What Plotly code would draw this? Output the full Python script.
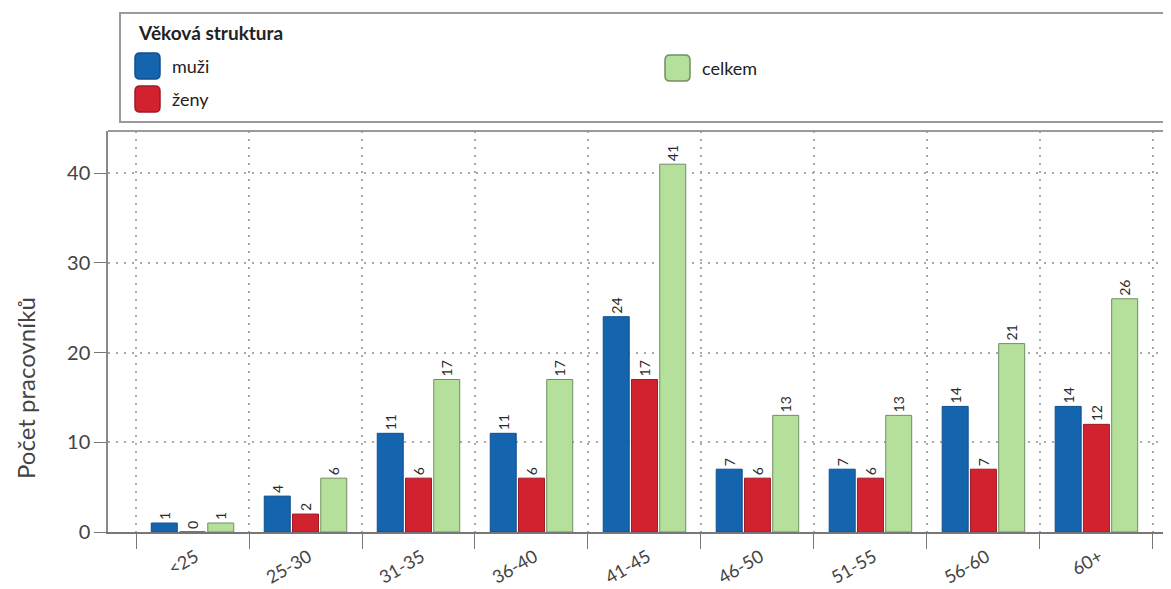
import plotly.graph_objects as go

categories = ["<25", "25-30", "31-35", "36-40", "41-45", "46-50", "51-55", "56-60", "60+"]
muzi = [1, 4, 11, 11, 24, 7, 7, 14, 14]
zeny = [0, 2, 6, 6, 17, 6, 6, 7, 12]
celkem = [1, 6, 17, 17, 41, 13, 13, 21, 26]
series_names = ["muži", "ženy", "celkem"]
legend_title = "Věková struktura"
y_title = "Počet pracovníků"
y_ticks = [0, 10, 20, 30, 40]

OFF = 8  # default page body margin
W, H = 1171 - OFF, 589
ML, MR, MT = 108 - OFF, 0, 131 - OFF
MB = H - (532 - OFF)
PW, PH = W - ML - MR, H - MT - MB

def px(x):
    return (x - OFF - ML) / PW

def py(y):
    return (H - MB - (y - OFF)) / PH

FONT = "Lato"
colors = ["#1464ae", "#d3222f", "#b4e09c"]
lines = ["#0e4f8f", "#9e1a24", "#6f8f62"]

fig = go.Figure()
for name, vals, c, lc in zip(series_names, [muzi, zeny, celkem], colors, lines):
    fig.add_trace(go.Bar(
        x=categories, y=vals, name=name,
        marker=dict(color=c, line=dict(color=lc, width=1)),
        text=[str(v) for v in vals], textposition="outside", textangle=-90,
        textfont=dict(family=FONT, size=14, color="#2a2a2a"),
        cliponaxis=False, showlegend=False,
    ))

shapes = []
annotations = []
shapes.append(dict(type="rect", xref="paper", yref="paper",
                   x0=px(120), x1=px(1185), y0=py(122), y1=py(13),
                   line=dict(color="#9a9a9a", width=2), fillcolor="white", layer="above"))
shapes.append(dict(type="line", xref="paper", yref="paper",
                   x0=0, x1=1, y0=1, y1=1, line=dict(color="#9a9a9a", width=2)))

def swatch(x0, y0, w, h, fill, line, r=5):
    x1, y1 = x0 + w, y0 + h
    path = (f"M {px(x0+r)},{py(y0)} L {px(x1-r)},{py(y0)} Q {px(x1)},{py(y0)} {px(x1)},{py(y0+r)} "
            f"L {px(x1)},{py(y1-r)} Q {px(x1)},{py(y1)} {px(x1-r)},{py(y1)} "
            f"L {px(x0+r)},{py(y1)} Q {px(x0)},{py(y1)} {px(x0)},{py(y1-r)} "
            f"L {px(x0)},{py(y0+r)} Q {px(x0)},{py(y0)} {px(x0+r)},{py(y0)} Z")
    return dict(type="path", xref="paper", yref="paper", path=path,
                fillcolor=fill, line=dict(color=line, width=1.5), layer="above")

leg_pos = [(135, 53), (135, 86), (665, 55)]
for (sx, sy), name, c, lc in zip(leg_pos, series_names, colors, lines):
    shapes.append(swatch(sx, sy, 25, 26, c, lc))
    annotations.append(dict(xref="paper", yref="paper", x=px(sx + 35), y=py(sy + 13),
                            text=name, showarrow=False, xanchor="left", yanchor="middle",
                            font=dict(family=FONT, size=18, color="#222")))
annotations.append(dict(xref="paper", yref="paper", x=px(136), y=py(33),
                        text=f"<b>{legend_title}</b>", showarrow=False,
                        xanchor="left", yanchor="middle",
                        font=dict(family=FONT, size=19, color="#222")))
annotations.append(dict(xref="paper", yref="paper", x=px(25), y=py(388),
                        text=y_title, showarrow=False, textangle=-90,
                        xanchor="center", yanchor="middle",
                        font=dict(family=FONT, size=24, color="#444")))

fig.update_layout(
    width=W, height=H,
    margin=dict(l=ML, r=MR, t=MT, b=MB, pad=0, autoexpand=False),
    paper_bgcolor="white", plot_bgcolor="white",
    barmode="group", bargap=0.25, bargroupgap=0.08,
    font=dict(family=FONT, color="#444"),
    shapes=shapes, annotations=annotations,
    showlegend=False,
)
fig.update_xaxes(
    range=[-0.748, 8.66], tickson="boundaries", ticks="outside", ticklen=15,
    tickcolor="#777", tickangle=-30, tickfont=dict(family=FONT, size=18, color="#444"),
    ticklabelshift=3, ticklabelstandoff=6, automargin=False,
    showgrid=True, gridcolor="#aaaaaa", griddash="2px,6px", gridwidth=1.5,
    showline=True, linecolor="#777", linewidth=1.5, zeroline=False,
)
fig.update_yaxes(
    range=[0, 44.7], tickvals=y_ticks, ticks="outside", ticklen=12, tickcolor="#777",
    tickfont=dict(family=FONT, size=20, color="#444"), automargin=False,
    showgrid=True, gridcolor="#aaaaaa", griddash="2px,6px", gridwidth=1.5,
    showline=True, linecolor="#888", linewidth=1.5, zeroline=False,
)

fig.write_html("out.html")
